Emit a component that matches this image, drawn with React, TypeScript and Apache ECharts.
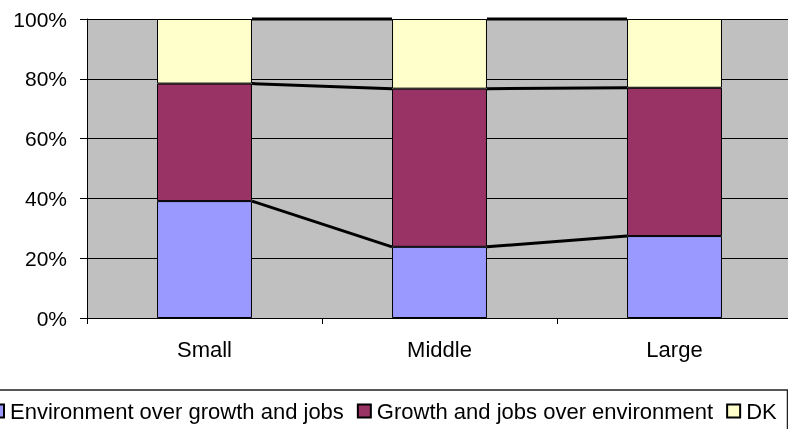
import React, { useEffect, useRef } from "react";
import * as echarts from "echarts";

const categories = ["Small", "Middle", "Large"];
const envValues = [39.1, 23.8, 27.4];
const growthValues = [39.3, 52.9, 49.6];
const dkValues = [21.6, 23.3, 23.0];
const seriesNames = [
  "Environment over growth and jobs",
  "Growth and jobs over environment",
  "DK",
];
const yTicks = [0, 20, 40, 60, 80, 100];

const FONT = "'Liberation Sans', Arial, sans-serif";
const BAR_FRACTION = 0.404;

export default function App() {
  const ref = useRef<HTMLDivElement>(null);

  useEffect(() => {
    if (!ref.current) return;
    const chart = echarts.init(ref.current, undefined, { renderer: "svg" });

    const levelEnv = envValues.slice();
    const levelGrowth = envValues.map((v, i) => v + growthValues[i]);
    const levelTop = envValues.map((v, i) => v + growthValues[i] + dkValues[i]);
    const levels = [levelEnv, levelGrowth, levelTop];

    const barStyle = (color: string) => ({
      color,
      borderColor: "#000",
      borderWidth: 1,
    });

    chart.setOption({
      animation: false,
      textStyle: { fontFamily: FONT },
      grid: {
        left: 87,
        top: 19,
        right: -4,
        bottom: 111,
        show: true,
        backgroundColor: "#C0C0C0",
        borderWidth: 0,
        containLabel: false,
        outerBoundsMode: "none",
      },
      legend: {
        data: seriesNames,
        icon: "rect",
        left: -10,
        top: 400,
        padding: 0,
        itemWidth: 13,
        itemHeight: 13,
        itemGap: 13,
        textStyle: {
          fontFamily: FONT,
          fontSize: 22,
          color: "#000",
          padding: [0, 0, 0, 1],
        },
      },
      graphic: [
        {
          type: "rect",
          shape: { x: -5, y: 390, width: 792.5, height: 60 },
          style: { fill: "none", stroke: "#222", lineWidth: 1.5 },
          silent: true,
        },
      ],
      xAxis: {
        type: "category",
        data: categories,
        boundaryGap: true,
        axisLine: { lineStyle: { color: "#000", width: 1 } },
        axisTick: { show: true, length: 6, lineStyle: { color: "#000" } },
        axisLabel: { color: "#000", fontSize: 22, fontFamily: FONT, margin: 20 },
      },
      yAxis: {
        type: "value",
        min: yTicks[0],
        max: yTicks[yTicks.length - 1],
        interval: 20,
        axisLine: { show: true, lineStyle: { color: "#000", width: 1 } },
        axisTick: { show: true, length: 7, lineStyle: { color: "#000" } },
        axisLabel: {
          color: "#000",
          fontSize: 21,
          fontFamily: FONT,
          margin: 20,
          formatter: "{value}%",
        },
        splitLine: { show: true, lineStyle: { color: "#000", width: 1 } },
      },
      series: [
        {
          name: seriesNames[0],
          type: "bar",
          stack: "total",
          barWidth: "40.4%",
          data: envValues,
          itemStyle: barStyle("#9999FF"),
        },
        {
          name: seriesNames[1],
          type: "bar",
          stack: "total",
          barWidth: "40.4%",
          data: growthValues,
          itemStyle: barStyle("#993366"),
        },
        {
          name: seriesNames[2],
          type: "bar",
          stack: "total",
          barWidth: "40.4%",
          data: dkValues,
          itemStyle: barStyle("#FFFFCC"),
        },
        {
          name: "seriesLines",
          type: "custom",
          z: 10,
          clip: false,
          silent: true,
          encode: { x: 0, y: 1 },
          data: [
            [0, 0],
            [1, 0],
          ],
          renderItem: (params: any, api: any) => {
            const i = api.value(0);
            const half = (api.size([1, 0])[0] * BAR_FRACTION) / 2;
            const children = levels.map((lv) => {
              const p0 = api.coord([i, lv[i]]);
              const p1 = api.coord([i + 1, lv[i + 1]]);
              return {
                type: "line",
                shape: {
                  x1: p0[0] + half,
                  y1: p0[1],
                  x2: p1[0] - half,
                  y2: p1[1],
                },
                style: { stroke: "#000", lineWidth: 3 },
              };
            });
            return { type: "group", children };
          },
        },
      ],
    });

    return () => chart.dispose();
  }, []);

  return (
    <div
      ref={ref}
      style={{ position: "fixed", left: 0, top: 0, width: 788, height: 429 }}
    />
  );
}
